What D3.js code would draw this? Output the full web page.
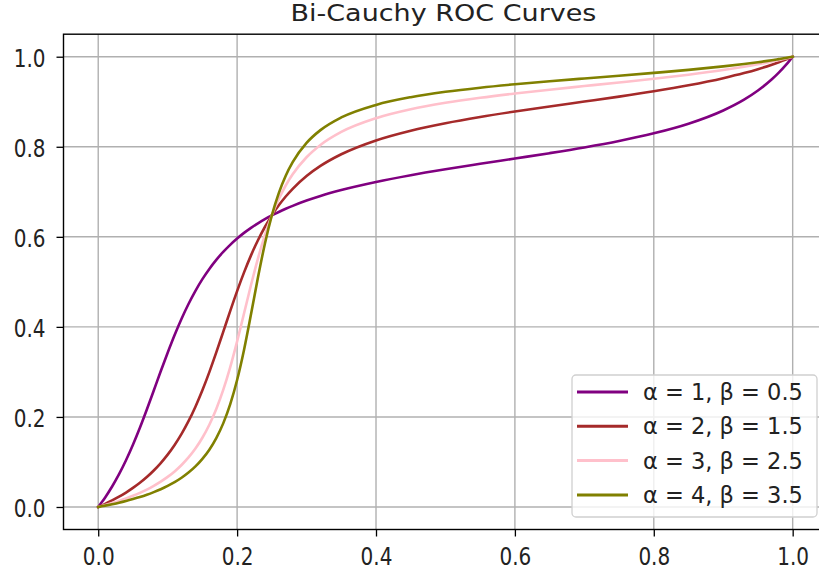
<!DOCTYPE html>
<html>
<head>
<meta charset="utf-8">
<script src="https://cdn.jsdelivr.net/npm/d3@7"></script>
<style>
  html, body { margin: 0; padding: 0; background: #fff; }
  svg { display: block; font-family: "DejaVu Sans", sans-serif; }
</style>
</head>
<body>
<svg id="chart" width="819" height="576"></svg>
<script>
// ---- data ----
const fpr = [0, 0.005, 0.01, 0.02, 0.03, 0.04, 0.05, 0.06, 0.07, 0.08, 0.09, 0.10, 0.11, 0.12, 0.13, 0.14, 0.15, 0.16, 0.17, 0.18, 0.19, 0.20, 0.21, 0.22, 0.23, 0.24, 0.25, 0.26, 0.27, 0.28, 0.30, 0.32, 0.35, 0.40, 0.45, 0.50, 0.55, 0.60, 0.65, 0.70, 0.75, 0.80, 0.85, 0.90, 0.93, 0.95, 0.97, 0.98, 0.99, 0.995, 1];
const tprA1B05 = [0, 0.0103, 0.0213, 0.0455, 0.0729, 0.1038, 0.1382, 0.1759, 0.2165, 0.2588, 0.3016, 0.3427, 0.3820, 0.4182, 0.4509, 0.4801, 0.5060, 0.5287, 0.5488, 0.5665, 0.5822, 0.5962, 0.6087, 0.6199, 0.6300, 0.6392, 0.6476, 0.6552, 0.6623, 0.6688, 0.6805, 0.6907, 0.7039, 0.7219, 0.7369, 0.75, 0.7621, 0.7739, 0.7858, 0.7985, 0.8128, 0.8298, 0.8512, 0.8806, 0.9046, 0.9249, 0.9498, 0.9646, 0.9812, 0.9903, 1];
const tprA2B15 = [0, 0.0034, 0.0070, 0.0146, 0.0229, 0.0321, 0.0424, 0.0538, 0.0666, 0.0811, 0.0976, 0.1162, 0.1377, 0.1623, 0.1905, 0.2228, 0.2592, 0.2996, 0.3433, 0.3890, 0.4350, 0.4795, 0.5210, 0.5588, 0.5924, 0.6218, 0.6476, 0.6700, 0.6896, 0.7067, 0.7351, 0.7575, 0.7834, 0.8141, 0.8357, 0.8524, 0.8662, 0.8783, 0.8895, 0.9004, 0.9114, 0.9232, 0.9365, 0.9523, 0.9636, 0.9723, 0.9822, 0.9877, 0.9936, 0.9967, 1];
const tprA3B25 = [0, 0.0020, 0.0042, 0.0087, 0.0136, 0.0189, 0.0248, 0.0314, 0.0387, 0.0470, 0.0563, 0.0668, 0.0790, 0.0933, 0.1100, 0.1299, 0.1538, 0.1826, 0.2176, 0.2600, 0.3102, 0.3678, 0.4302, 0.4930, 0.5518, 0.6037, 0.6476, 0.6840, 0.7140, 0.7388, 0.7767, 0.8040, 0.8329, 0.8635, 0.8833, 0.8976, 0.9088, 0.9183, 0.9268, 0.9348, 0.9428, 0.9510, 0.9600, 0.9703, 0.9776, 0.9831, 0.9892, 0.9926, 0.9961, 0.9980, 1];
const tprA4B35 = [0, 0.0015, 0.0030, 0.0062, 0.0096, 0.0134, 0.0176, 0.0221, 0.0272, 0.0330, 0.0394, 0.0467, 0.0551, 0.0649, 0.0764, 0.0901, 0.1068, 0.1273, 0.1530, 0.1857, 0.2278, 0.2819, 0.3493, 0.4278, 0.5095, 0.5848, 0.6476, 0.6972, 0.7358, 0.7658, 0.8086, 0.8370, 0.8651, 0.8930, 0.9101, 0.9220, 0.9312, 0.9388, 0.9455, 0.9517, 0.9578, 0.9641, 0.9708, 0.9785, 0.9838, 0.9878, 0.9922, 0.9947, 0.9972, 0.9986, 1];
const seriesLabels = ["α = 1, β = 0.5", "α = 2, β = 1.5", "α = 3, β = 2.5", "α = 4, β = 3.5"];
const seriesColors = ["#800080", "#a52a2a", "#ffc0cb", "#808000"];
const xTicks = [0, 0.2, 0.4, 0.6, 0.8, 1.0];
const yTicks = [0, 0.2, 0.4, 0.6, 0.8, 1.0];
const title = "Bi-Cauchy ROC Curves";

const series = [tprA1B05, tprA2B15, tprA3B25, tprA4B35];

// ---- layout ----
const svg = d3.select("#chart");
const plot = { left: 63.5, right: 827.4, top: 34.2, bottom: 529.5 };
const x = d3.scaleLinear().domain([-0.05, 1.05]).range([plot.left, plot.right]);
const y = d3.scaleLinear().domain([-0.05, 1.05]).range([plot.bottom, plot.top]);

// grid
const grid = svg.append("g");
grid.selectAll("line.gx").data(xTicks).join("line")
  .attr("x1", d => x(d)).attr("x2", d => x(d))
  .attr("y1", plot.top).attr("y2", plot.bottom)
  .attr("stroke", "#b0b0b0").attr("stroke-width", 1.4);
grid.selectAll("line.gy").data(yTicks).join("line")
  .attr("y1", d => y(d)).attr("y2", d => y(d))
  .attr("x1", plot.left).attr("x2", plot.right)
  .attr("stroke", "#b0b0b0").attr("stroke-width", 1.4);

// curves
const line = d3.line().x((d, i) => x(fpr[i])).y(d => y(d)).curve(d3.curveMonotoneX);
svg.append("g").selectAll("path").data(series).join("path")
  .attr("d", d => line(d))
  .attr("fill", "none")
  .attr("stroke", (d, i) => seriesColors[i])
  .attr("stroke-width", 2.6)
  .attr("stroke-linejoin", "round")
  .attr("stroke-linecap", "square");

// axes
const fmt = d3.format(".1f");
const xAxis = d3.axisBottom(x).tickValues(xTicks).tickFormat(fmt).tickSize(7);
const yAxis = d3.axisLeft(y).tickValues(yTicks).tickFormat(fmt).tickSize(7);
const gx = svg.append("g").attr("transform", `translate(0,${plot.bottom})`).call(xAxis);
const gy = svg.append("g").attr("transform", `translate(${plot.left},0)`).call(yAxis);
[gx, gy].forEach(g => {
  g.select(".domain").remove();
  g.selectAll(".tick line").attr("stroke", "#000").attr("stroke-width", 1.3);
  g.selectAll(".tick text").attr("fill", "#222").attr("font-size", 20)
    .attr("font-family", "DejaVu Sans, sans-serif");
});
gx.selectAll(".tick text")
  .attr("x", 0).attr("y", 0).attr("dy", 0)
  .attr("transform", "translate(0,35.5) scale(1,1.23)");
gy.selectAll(".tick text")
  .attr("x", 0).attr("y", 0).attr("dy", "0.36em")
  .attr("transform", "translate(-18,1) scale(1,1.23)");

// spines
svg.append("rect")
  .attr("x", plot.left).attr("y", plot.top)
  .attr("width", plot.right - plot.left).attr("height", plot.bottom - plot.top)
  .attr("fill", "none").attr("stroke", "#000").attr("stroke-width", 1.4);

// title
svg.append("text")
  .attr("transform", `translate(${(plot.left + plot.right) / 2 - 2},21) scale(1,0.86)`)
  .attr("text-anchor", "middle").attr("font-size", 27).attr("fill", "#222")
  .text(title);

// legend
const leg = svg.append("g");
leg.append("rect")
  .attr("x", 572).attr("y", 375).attr("width", 245).attr("height", 142)
  .attr("rx", 4).attr("fill", "#fff").attr("fill-opacity", 0.8)
  .attr("stroke", "#d0d0d0").attr("stroke-width", 1.3);
const rows = leg.selectAll("g.row").data(seriesLabels).join("g")
  .attr("transform", (d, i) => `translate(0,${392 + i * 34.3})`);
rows.append("line").attr("x1", 577).attr("x2", 628).attr("y1", 0).attr("y2", 0)
  .attr("stroke", (d, i) => seriesColors[i]).attr("stroke-width", 3);
rows.append("text").attr("x", 643).attr("y", 0).attr("dy", "0.36em")
  .attr("font-size", 22.5).attr("fill", "#222").text(d => d);
</script>
</body>
</html>
